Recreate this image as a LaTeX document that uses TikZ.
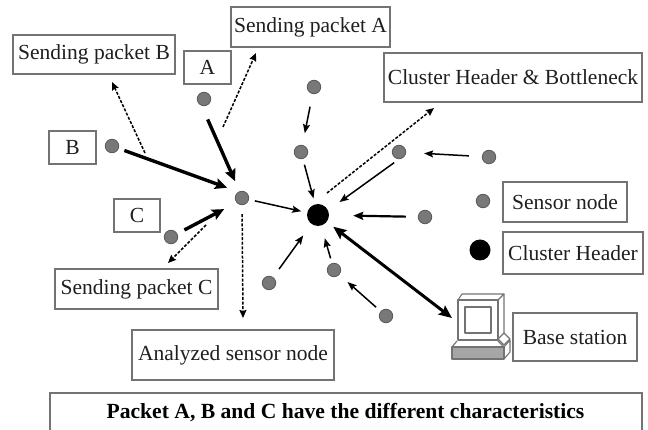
\documentclass[tikz,border=0pt]{standalone}
\usepackage{fontspec}
\setmainfont{Liberation Serif}
\usetikzlibrary{arrows.meta}
\definecolor{edgegray}{gray}{0.45}
\definecolor{inkdark}{gray}{0.12}
\definecolor{sensorfill}{gray}{0.47}
\definecolor{sensoredge}{gray}{0.35}
\tikzset{
  box/.style={draw=edgegray,line width=1.2pt,fill=white,inner sep=0pt,text=inkdark,font=\fontsize{21.5}{23}\selectfont,align=center},
  sensor/.style={circle,draw=sensoredge,fill=sensorfill,line width=0.8pt,minimum size=13.5pt,inner sep=0pt},
  header/.style={circle,fill=black,inner sep=0pt},
  thickarrow/.style={line width=3.4pt,black,-{Stealth[length=12pt,width=11pt,inset=2pt]}},
  doublearrow/.style={line width=3pt,black,{Stealth[length=13pt,width=11pt,inset=2pt]}-{Stealth[length=13pt,width=11pt,inset=2pt]}},
  medarrow/.style={line width=1.5pt,black,-{Stealth[length=9pt,width=7pt,inset=1.5pt]}},
  midarrow/.style={line width=2.2pt,black,-{Stealth[length=10pt,width=8pt,inset=1.5pt]}},
  dasharrow/.style={line width=1.5pt,black,dash pattern=on 3pt off 1.6pt,-{Stealth[length=8pt,width=7pt,inset=1pt]}},
  pc/.style={draw=edgegray,line width=1.1pt,line join=round},
}
\begin{document}
\begin{tikzpicture}[x=1pt,y=-1pt]
\useasboundingbox (0,0) rectangle (648,430);
% labelled boxes
\node[box,minimum width=162pt,minimum height=39pt] (sendB) at (94,54.5) {Sending packet B};
\node[box,minimum width=159pt,minimum height=40pt] (sendA) at (310.5,27) {Sending packet A};
\node[box,minimum width=47pt,minimum height=33pt] (lblA) at (207.5,67.5) {A};
\node[box,minimum width=47pt,minimum height=33pt] (lblB) at (72.5,147.5) {B};
\node[box,minimum width=46pt,minimum height=33pt] (lblC) at (137,215.5) {C};
\node[box,minimum width=258pt,minimum height=49pt] (cluster) at (513,77.5) {Cluster Header \& Bottleneck};
\node[box,minimum width=124pt,minimum height=40pt] (lblsensor) at (565,202) {Sensor node};
\node[box,minimum width=140pt,minimum height=42pt] (lblheader) at (573,253) {Cluster Header};
\node[box,minimum width=124pt,minimum height=48pt] (lblbase) at (575,337) {Base station};
\node[box,minimum width=163pt,minimum height=40pt] (sendC) at (136.5,289) {Sending packet C};
\node[box,minimum width=202pt,minimum height=50pt] (analyzed) at (233,355) {Analyzed sensor node};
% bottom box, cut by the lower edge
\draw[draw=edgegray,line width=1.2pt] (50,431) -- (50,393) -- (642,393) -- (642,431);
\node[text=black,inner sep=0pt,font=\bfseries\fontsize{21.6}{23}\selectfont] (note) at (345.5,413) {Packet A, B and C have the different characteristics};
% sensor nodes
\node[sensor] (nA) at (204,99) {};
\node[sensor] (nB) at (112,146) {};
\node[sensor] (nC) at (171,237) {};
\node[sensor] (nX) at (242,198) {};
\node[sensor] (n1) at (314,87) {};
\node[sensor] (n2) at (301,152) {};
\node[sensor] (n3) at (399,152) {};
\node[sensor] (n4) at (489,157) {};
\node[sensor] (n5) at (425,217) {};
\node[sensor] (n6) at (269,283) {};
\node[sensor] (n7) at (334,270) {};
\node[sensor] (n8) at (386,316) {};
\node[sensor] (legS) at (483,201) {};
\node[header,minimum size=22pt] (hub) at (318,215) {};
\node[header,minimum size=21pt] (legH) at (480,250) {};
% computer
\coordinate (pcport) at (452,318);
\fill[gray!70] (452,346) rectangle (504,359);
\draw[pc] (458,300) rectangle (498,340);
\draw[pc] (465,307) rectangle (491,333);
\draw[pc] (458,300) -- (462,294) -- (504,294) -- (498,300);
\draw[pc] (504,294) -- (504,335) -- (498,340);
\draw[pc] (457,341) -- (452,347) -- (504,347) -- (498,341);
\draw[pc] (452,347) rectangle (504,359);
\draw[pc] (504,347) -- (510,340) -- (510,352) -- (504,359);
\draw[pc,fill=white] (504,333) -- (510,339) -- (504,345) -- (498,339) -- cycle;
% thick arrows
\draw[thickarrow,shorten <=15pt,shorten >=11pt] (nA.-110) -- (nX.110);
\draw[thickarrow,shorten <=6pt,shorten >=12pt] (nB) -- (nX.120);
\draw[thickarrow,shorten <=8pt,shorten >=14pt] (nC) -- (nX.-140);
% thin arrows
\draw[medarrow,shorten <=13pt,shorten >=12pt] (n1) -- (n2);
\draw[medarrow,shorten <=6pt,shorten >=6pt] (n2) -- (hub);
\draw[medarrow,shorten <=6pt,shorten >=6pt] (nX) -- (hub);
\draw[medarrow,shorten <=13pt,shorten >=18pt] (n4) -- (n3);
\draw[medarrow,shorten <=6pt,shorten >=14pt] (n3.-90) -- (hub.25);
\draw[midarrow,shorten <=12pt,shorten >=24pt] (n5) -- (hub);
\draw[medarrow,shorten <=10pt,shorten >=14pt] (n6) -- (hub);
\draw[medarrow,shorten <=5pt,shorten >=13pt] (n7) -- (hub);
\draw[medarrow,shorten <=6pt,shorten >=11pt] (n8) -- (n7);
\draw[doublearrow,shorten <=8pt] (hub) -- (pcport);
% dashed arrows
\coordinate (dAs) at (223,127); \coordinate (dAe) at (256,53);
\coordinate (dBs) at (145,153); \coordinate (dBe) at (112,82);
\coordinate (dCs) at (206,225); \coordinate (dCe) at (168,263);
\coordinate (dXe) at (243,318);
\coordinate (dHs) at (327,193); \coordinate (dHe) at (434,108);
\draw[dasharrow] (dAs) -- (dAe);
\draw[dasharrow] (dBs) -- (dBe);
\draw[dasharrow] (dCs) -- (dCe);
\draw[dasharrow,shorten <=9pt] (nX) -- (dXe);
\draw[dasharrow] (dHs) -- (dHe);
\end{tikzpicture}
\end{document}
